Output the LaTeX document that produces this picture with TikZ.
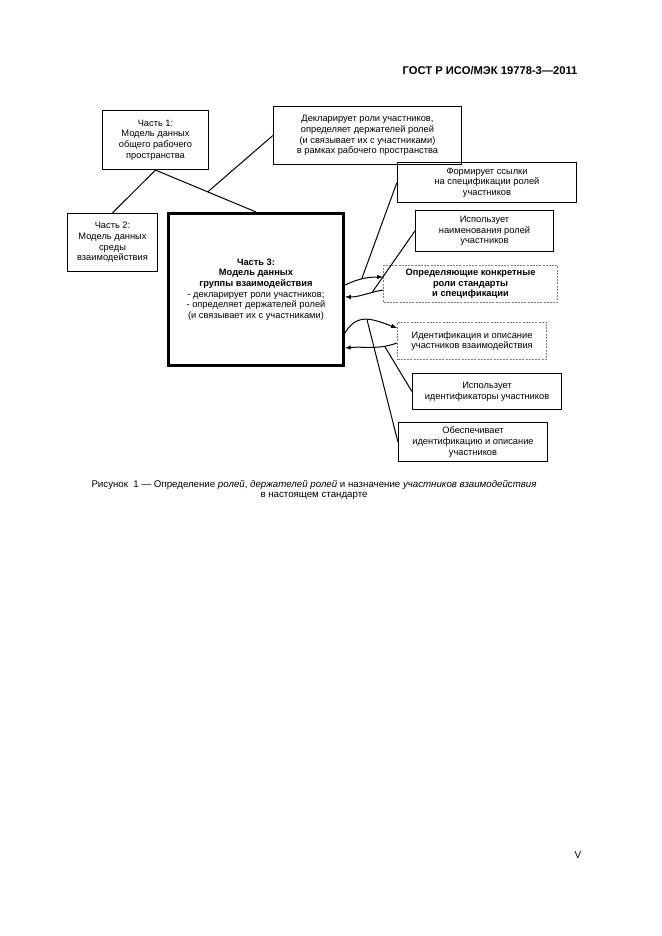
\documentclass[tikz,border=0pt]{standalone}
\usepackage{fontspec}
\setmainfont{Liberation Sans}
\usetikzlibrary{positioning, calc}

\begin{document}
\begin{tikzpicture}[x=1pt, y=1pt, >=latex,
    partbox/.style={draw, line width=1.2pt, align=center, inner sep=1pt, font=\fontsize{9.3}{10.6}\selectfont},
    mainbox/.style={partbox, line width=3pt},
    dashbox/.style={partbox, draw=gray, dash pattern=on 2pt off 1.2pt, line width=1.1pt},
    link/.style={line width=1pt}]
    \useasboundingbox (0,0) rectangle (661,936);

    \node[font=\bfseries\fontsize{11.2}{13}\selectfont, anchor=east] (title) at (581,865) {ГОСТ Р ИСО/МЭК 19778-3—2011};

    \node[partbox, minimum width=106pt, minimum height=59pt] (part1) at (155.5,796) {Часть 1:\\Модель данных\\общего рабочего\\пространства};
    \node[partbox, minimum width=188pt, minimum height=58pt] (decl) at (367.5,800.5) {Декларирует роли участников,\\определяет держателей ролей\\(и связывает их с участниками)\\в рамках рабочего пространства};
    \node[partbox, minimum width=90pt, minimum height=58pt] (part2) at (112.5,693.5) {Часть 2:\\Модель данных\\среды\\взаимодействия};
    \node[mainbox, minimum width=175pt, minimum height=152pt] (part3) at (256,646.5) {\textbf{Часть 3:}\\\textbf{Модель данных}\\\textbf{группы взаимодействия}\\- декларирует роли участников;\\- определяет держателей ролей\\(и связывает их с участниками)};
    \node[partbox, minimum width=179pt, minimum height=40pt] (form) at (487,753.5) {Формирует ссылки\\на спецификации ролей\\участников};
    \node[partbox, minimum width=138pt, minimum height=41pt] (names) at (484.5,705) {Использует\\наименования ролей\\участников};
    \node[dashbox, minimum width=174pt, minimum height=37pt, font=\bfseries\fontsize{9.3}{10.6}\selectfont] (defstd) at (470.5,652) {Определяющие конкретные\\роли стандарты\\и спецификации};
    \node[dashbox, minimum width=149pt, minimum height=37pt] (ident) at (472,595) {Идентификация и описание\\участников взаимодействия};
    \node[partbox, minimum width=149pt, minimum height=36pt] (ids) at (487,544.5) {Использует\\идентификаторы участников};
    \node[partbox, minimum width=149pt, minimum height=39pt] (provides) at (473,494) {Обеспечивает\\идентификацию и описание\\участников};

    \node[align=center, font=\fontsize{9.7}{10.5}\selectfont] (caption) at (314,446) {Рисунок~~1 — Определение \textit{ролей}, \textit{держателей ролей} и назначение \textit{участников взаимодействия}\\в настоящем стандарте};
    \node[font=\fontsize{10}{12}\selectfont] (pagenum) at (578,81) {V};

    \coordinate (junc) at ($(part1.south)!0.52!(part3.north)$);
    \draw[link] (part1.south) -- (part2.north);
    \draw[link] (part1.south) -- (part3.north);
    \draw[link] (decl.west) -- (junc);

    \draw[link, ->] ([yshift=4.5pt]part3.east) to[out=25, in=180] coordinate[pos=0.45] (fa) ([yshift=7pt]defstd.west);
    \draw[link, ->] ([yshift=-6pt]defstd.west) to[out=190, in=0] coordinate[pos=0.27] (nb) ([yshift=-7.5pt]part3.east);
    \draw[link] (form.west) -- (fa);
    \draw[link] (names.west) -- (nb);

    \draw[link, ->] ([yshift=-43.5pt]part3.east) to[out=60, in=160, looseness=1.2] coordinate[pos=0.5] (cc) ([yshift=13pt]ident.west);
    \draw[link, ->] ([yshift=-2pt]ident.west) to[out=200, in=5] coordinate[pos=0.23] (dd) ([yshift=-58.5pt]part3.east);
    \draw[link] (cc) -- (provides.west);
    \draw[link] (dd) -- (ids.west);
\end{tikzpicture}
\end{document}
